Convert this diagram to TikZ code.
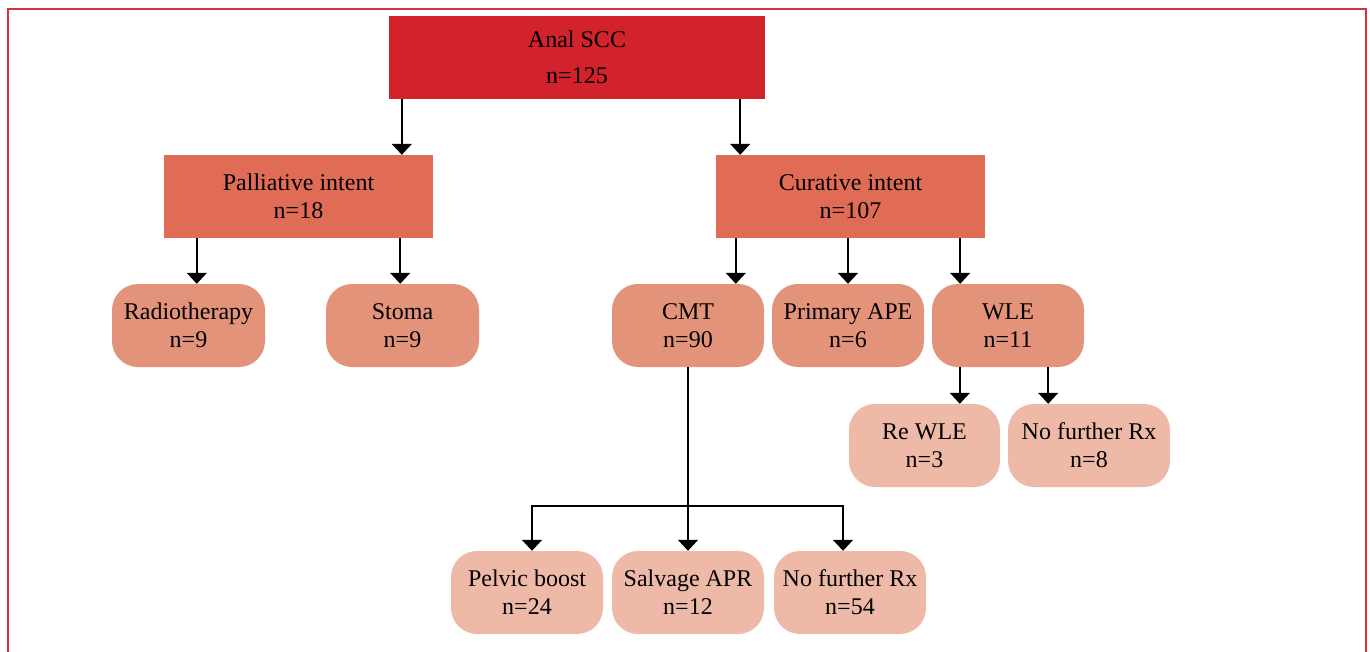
\documentclass[tikz,border=0pt]{standalone}
\usepackage{fontspec}
\setmainfont{Liberation Serif}
\usetikzlibrary{arrows.meta,calc}
\definecolor{cTop}{HTML}{D2222B}
\definecolor{cMid}{HTML}{E06C55}
\definecolor{cRnd}{HTML}{E4937B}
\definecolor{cLt}{HTML}{EFB9A8}
\definecolor{cFrame}{HTML}{D9303A}
\begin{document}
\begin{tikzpicture}[x=1pt,y=1pt,
  box/.style={inner sep=0pt,align=center,font=\fontsize{24}{28}\selectfont,text=black},
  topbox/.style={box,fill=cTop,minimum width=376pt,minimum height=83pt,font=\fontsize{24}{36}\selectfont},
  midbox/.style={box,fill=cMid,minimum width=269pt,minimum height=83pt},
  rbox/.style={box,fill=cRnd,rounded corners=26pt,minimum width=153pt,minimum height=83pt},
  lbox/.style={box,fill=cLt,rounded corners=26pt,minimum width=152pt,minimum height=83pt},
  arr/.style={line width=1.8pt,-{Triangle[width=20pt,length=11pt]}},
  ln/.style={line width=1.8pt}]
\useasboundingbox (0,0) rectangle (1370,-651);
\draw[cFrame,line width=2pt] (8,-9) rectangle (1366,-670);

\node[topbox] (scc) at (577,-57.5) {Anal SCC\\n=125};
\node[midbox] (pal) at (298.5,-196.5) {Palliative intent\\n=18};
\node[midbox] (cur) at (850.5,-196.5) {Curative intent\\n=107};
\node[rbox] (radio) at (188.5,-325.5) {Radiotherapy\\n=9};
\node[rbox] (stoma) at (402.5,-325.5) {Stoma\\n=9};
\node[rbox,minimum width=152pt] (cmt) at (688,-325.5) {CMT\\n=90};
\node[rbox,minimum width=152pt] (ape) at (848,-325.5) {Primary APE\\n=6};
\node[rbox,minimum width=152pt] (wle) at (1008,-325.5) {WLE\\n=11};
\node[lbox,minimum width=151pt] (rewle) at (924.5,-445.5) {Re WLE\\n=3};
\node[lbox,minimum width=162pt] (nfr1) at (1089,-445.5) {No further Rx\\n=8};
\node[lbox] (pelvic) at (527,-592.5) {Pelvic boost\\n=24};
\node[lbox] (salv) at (688,-592.5) {Salvage APR\\n=12};
\node[lbox] (nfr2) at (850,-592.5) {No further Rx\\n=54};

\draw[arr] ([xshift=13pt]scc.south west) -- ([xshift=13pt]scc.south west |- pal.north);
\draw[arr] ([xshift=-25pt]scc.south east) -- ([xshift=-25pt]scc.south east |- cur.north);

\draw[arr] ([xshift=33pt]pal.south west) -- ([xshift=33pt]pal.south west |- radio.north);
\draw[arr] ([xshift=-33pt]pal.south east) -- ([xshift=-33pt]pal.south east |- stoma.north);

\draw[arr] ([xshift=20pt]cur.south west) -- ([xshift=20pt]cur.south west |- cmt.north);
\draw[arr] (cur.south -| ape.north) -- (ape.north);
\draw[arr] ([xshift=-25pt]cur.south east) -- ([xshift=-25pt]cur.south east |- wle.north);

\draw[arr] ([xshift=28pt]wle.south west) -- ([xshift=28pt]wle.south west |- rewle.north);
\draw[arr] ([xshift=-36pt]wle.south east) -- ([xshift=-36pt]wle.south east |- nfr1.north);

\coordinate (j) at (688,-506);
\draw[arr] (cmt.south) -- (salv.north);
\draw[arr] (j) -| ([xshift=5pt]pelvic.north);
\draw[arr] (j) -| ([xshift=-7pt]nfr2.north);
\end{tikzpicture}
\end{document}
